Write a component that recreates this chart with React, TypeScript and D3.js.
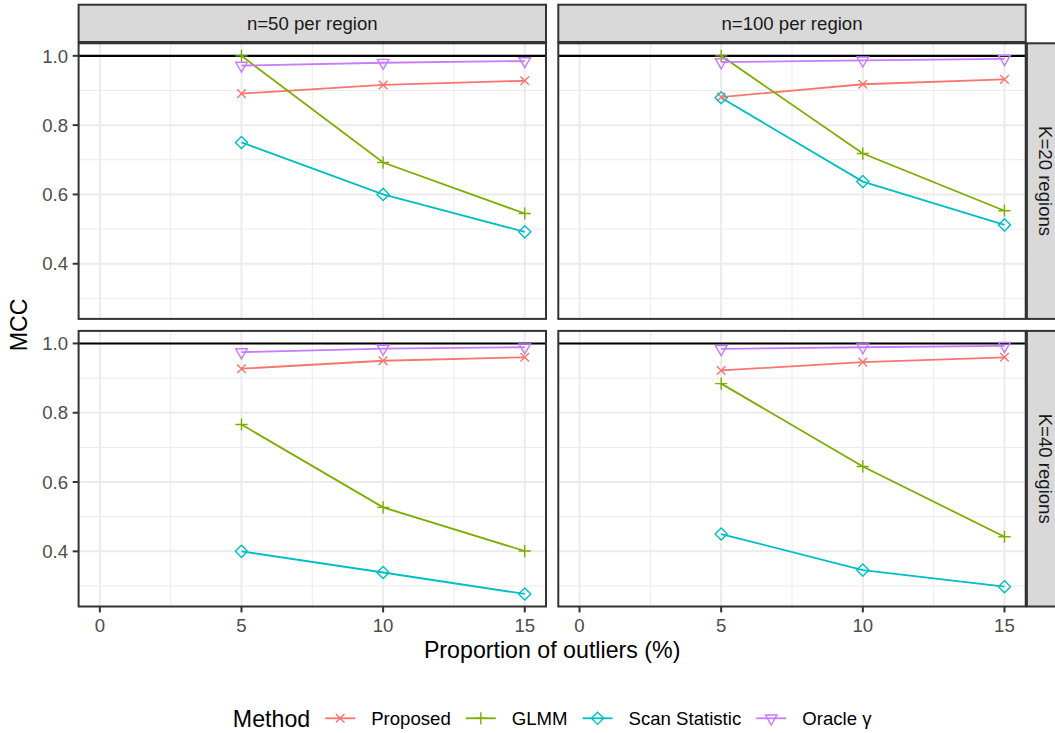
import React, { useEffect, useRef } from "react";
import * as d3 from "d3";

// ---------- data ----------
const xValues = [5, 10, 15];
const xTicks = [0, 5, 10, 15];
const xMinorTicks = [2.5, 7.5, 12.5];
const yTicks = [0.4, 0.6, 0.8, 1.0];
const yMinorTicks = [0.3, 0.5, 0.7, 0.9];
const referenceLine = 1.0;
const xLimitLow = 0;
const xLimitHigh = 15;

const methods = ["Proposed", "GLMM", "Scan Statistic", "Oracle γ"];
const methodColors = ["#F8766D", "#7CAE00", "#00BFC4", "#C77CFF"];
const methodShapes = ["cross", "plus", "diamond", "triangleDown"];

const colLabels = ["n=50 per region", "n=100 per region"];
const rowLabels = ["K=20 regions", "K=40 regions"];

// K=20, n=50
const proposedK20n50 = [0.891, 0.916, 0.928];
const glmmK20n50 = [1.0, 0.692, 0.545];
const scanK20n50 = [0.75, 0.6, 0.492];
const oracleK20n50 = [0.972, 0.98, 0.985];
// K=20, n=100
const proposedK20n100 = [0.881, 0.918, 0.932];
const glmmK20n100 = [1.0, 0.718, 0.553];
const scanK20n100 = [0.879, 0.637, 0.512];
const oracleK20n100 = [0.982, 0.987, 0.991];
// K=40, n=50
const proposedK40n50 = [0.927, 0.95, 0.96];
const glmmK40n50 = [0.766, 0.527, 0.401];
const scanK40n50 = [0.4, 0.339, 0.277];
const oracleK40n50 = [0.975, 0.985, 0.989];
// K=40, n=100
const proposedK40n100 = [0.922, 0.946, 0.96];
const glmmK40n100 = [0.884, 0.645, 0.442];
const scanK40n100 = [0.45, 0.346, 0.298];
const oracleK40n100 = [0.984, 0.989, 0.993];

// panels[row][col] = series per method
const panelSeries = [
  [
    [proposedK20n50, glmmK20n50, scanK20n50, oracleK20n50],
    [proposedK20n100, glmmK20n100, scanK20n100, oracleK20n100],
  ],
  [
    [proposedK40n50, glmmK40n50, scanK40n50, oracleK40n50],
    [proposedK40n100, glmmK40n100, scanK40n100, oracleK40n100],
  ],
];

// ---------- layout ----------
const W = 1055;
const H = 733;
const FONT = "'Liberation Sans', Arial, Helvetica, sans-serif";
const colLeft = [78.6, 558.3];
const panelW = 467.4;
const rowTop = [43.3, 330.9];
const panelH = 275.6;
const stripTopY = 4.7;
const stripTopH = 37.3;
const stripRightX = 1026.9;
const stripRightW = 37.3;
const smallFont = 18.6;
const titleFont = 23.2;
const R = 4.3;

function shapePath(shape: string, cx: number, cy: number): string {
  if (shape === "cross") {
    return `M${cx - R},${cy - R}L${cx + R},${cy + R}M${cx - R},${cy + R}L${cx + R},${cy - R}`;
  }
  if (shape === "plus") {
    const h = R * 1.414;
    return `M${cx - h},${cy}L${cx + h},${cy}M${cx},${cy - h}L${cx},${cy + h}`;
  }
  if (shape === "diamond") {
    const h = R * 1.414;
    return `M${cx},${cy - h}L${cx + h},${cy}L${cx},${cy + h}L${cx - h},${cy}Z`;
  }
  const r = 1.555 * R;
  const xc = 1.347 * R;
  const yc = 0.778 * R;
  return `M${cx},${cy + r}L${cx + xc},${cy - yc}L${cx - xc},${cy - yc}Z`;
}

export default function App() {
  const ref = useRef<SVGSVGElement | null>(null);

  useEffect(() => {
    const svg = d3.select(ref.current);
    svg.selectAll("*").remove();

    const allVals: number[] = [referenceLine];
    panelSeries.forEach((row) => row.forEach((p) => p.forEach((s) => allVals.push(...s))));
    const yMin = d3.min(allVals) as number;
    const yMax = d3.max(allVals) as number;
    const yPad = (yMax - yMin) * 0.05;
    const xPad = (xLimitHigh - xLimitLow) * 0.05;

    const defs = svg.append("defs");

    panelSeries.forEach((row, ri) => {
      row.forEach((series, ci) => {
        const x0 = colLeft[ci];
        const y0 = rowTop[ri];
        const x = d3.scaleLinear().domain([xLimitLow - xPad, xLimitHigh + xPad]).range([x0, x0 + panelW]);
        const y = d3.scaleLinear().domain([yMin - yPad, yMax + yPad]).range([y0 + panelH, y0]);
        const clipId = `clip-${ri}-${ci}`;
        defs.append("clipPath").attr("id", clipId)
          .append("rect").attr("x", x0).attr("y", y0).attr("width", panelW).attr("height", panelH);

        const g = svg.append("g");
        g.append("rect").attr("x", x0).attr("y", y0).attr("width", panelW).attr("height", panelH).attr("fill", "white");

        const grid = g.append("g").attr("clip-path", `url(#${clipId})`);
        // minor grid
        grid.selectAll(".ymin").data(yMinorTicks).enter().append("line")
          .attr("x1", x0).attr("x2", x0 + panelW).attr("y1", (d) => y(d)).attr("y2", (d) => y(d))
          .attr("stroke", "#EBEBEB").attr("stroke-width", 1);
        grid.selectAll(".xmin").data(xMinorTicks).enter().append("line")
          .attr("y1", y0).attr("y2", y0 + panelH).attr("x1", (d) => x(d)).attr("x2", (d) => x(d))
          .attr("stroke", "#EBEBEB").attr("stroke-width", 1);
        // major grid
        grid.selectAll(".ymaj").data(yTicks).enter().append("line")
          .attr("x1", x0).attr("x2", x0 + panelW).attr("y1", (d) => y(d)).attr("y2", (d) => y(d))
          .attr("stroke", "#EBEBEB").attr("stroke-width", 2);
        grid.selectAll(".xmaj").data(xTicks).enter().append("line")
          .attr("y1", y0).attr("y2", y0 + panelH).attr("x1", (d) => x(d)).attr("x2", (d) => x(d))
          .attr("stroke", "#EBEBEB").attr("stroke-width", 2);

        // reference line
        grid.append("line").attr("x1", x0).attr("x2", x0 + panelW)
          .attr("y1", y(referenceLine)).attr("y2", y(referenceLine))
          .attr("stroke", "black").attr("stroke-width", 2.1);

        const line = d3.line<number>().x((_, i) => x(xValues[i])).y((d) => y(d));
        series.forEach((vals, mi) => {
          grid.append("path").attr("d", line(vals) as string).attr("fill", "none")
            .attr("stroke", methodColors[mi]).attr("stroke-width", 1.8);
        });
        series.forEach((vals, mi) => {
          vals.forEach((v, i) => {
            grid.append("path").attr("d", shapePath(methodShapes[mi], x(xValues[i]), y(v)))
              .attr("fill", "none").attr("stroke", methodColors[mi]).attr("stroke-width", 1.4);
          });
        });

        // border
        g.append("rect").attr("x", x0).attr("y", y0).attr("width", panelW).attr("height", panelH)
          .attr("fill", "none").attr("stroke", "#333333").attr("stroke-width", 2);

        // y axis on left column
        if (ci === 0) {
          yTicks.forEach((t) => {
            g.append("line").attr("x1", x0 - 5.9).attr("x2", x0).attr("y1", y(t)).attr("y2", y(t))
              .attr("stroke", "#333333").attr("stroke-width", 2);
            g.append("text").attr("x", x0 - 10.6).attr("y", y(t)).attr("dy", "0.36em")
              .attr("text-anchor", "end").attr("font-family", FONT).attr("font-size", smallFont)
              .attr("fill", "#4D4D4D").text(d3.format(".1f")(t));
          });
        }
        // x axis on bottom row
        if (ri === panelSeries.length - 1) {
          xTicks.forEach((t) => {
            g.append("line").attr("y1", y0 + panelH).attr("y2", y0 + panelH + 5.9).attr("x1", x(t)).attr("x2", x(t))
              .attr("stroke", "#333333").attr("stroke-width", 2);
            g.append("text").attr("x", x(t)).attr("y", y0 + panelH + 25).attr("text-anchor", "middle")
              .attr("font-family", FONT).attr("font-size", smallFont).attr("fill", "#4D4D4D").text(String(t));
          });
        }
        // top strips
        if (ri === 0) {
          g.append("rect").attr("x", x0).attr("y", stripTopY).attr("width", panelW).attr("height", stripTopH)
            .attr("fill", "#D9D9D9").attr("stroke", "#333333").attr("stroke-width", 2);
          g.append("text").attr("x", x0 + panelW / 2).attr("y", stripTopY + stripTopH / 2).attr("dy", "0.36em")
            .attr("text-anchor", "middle").attr("font-family", FONT).attr("font-size", smallFont)
            .attr("fill", "#1A1A1A").text(colLabels[ci]);
        }
        // right strips
        if (ci === row.length - 1) {
          g.append("rect").attr("x", stripRightX).attr("y", y0).attr("width", stripRightW).attr("height", panelH)
            .attr("fill", "#D9D9D9").attr("stroke", "#333333").attr("stroke-width", 2);
          const cx = stripRightX + stripRightW / 2;
          const cy = y0 + panelH / 2;
          g.append("text").attr("transform", `translate(${cx},${cy}) rotate(90)`).attr("dy", "0.36em")
            .attr("text-anchor", "middle").attr("font-family", FONT).attr("font-size", smallFont)
            .attr("fill", "#1A1A1A").text(rowLabels[ri]);
        }
      });
    });

    const panelsCenterX = (colLeft[0] + colLeft[1] + panelW) / 2;
    const panelsCenterY = (rowTop[0] + rowTop[1] + panelH) / 2;

    // axis titles
    svg.append("text").attr("x", panelsCenterX).attr("y", 658).attr("text-anchor", "middle")
      .attr("font-family", FONT).attr("font-size", titleFont).attr("fill", "black")
      .text("Proportion of outliers (%)");
    svg.append("text").attr("transform", `translate(27,${panelsCenterY}) rotate(-90)`)
      .attr("text-anchor", "middle").attr("font-family", FONT).attr("font-size", titleFont).attr("fill", "black")
      .text("MCC");

    // legend
    const legendY = 718.3;
    const lg = svg.append("g");
    const title = lg.append("text").attr("x", 0).attr("y", legendY).attr("dy", "0.36em")
      .attr("font-family", FONT).attr("font-size", titleFont).attr("fill", "black").text("Method");
    let cursor = (title.node() as SVGTextElement).getComputedTextLength() + 15;
    methods.forEach((m, mi) => {
      const keyX = cursor;
      lg.append("line").attr("x1", keyX).attr("x2", keyX + 30).attr("y1", legendY).attr("y2", legendY)
        .attr("stroke", methodColors[mi]).attr("stroke-width", 1.8);
      lg.append("path").attr("d", shapePath(methodShapes[mi], keyX + 15, legendY))
        .attr("fill", "none").attr("stroke", methodColors[mi]).attr("stroke-width", 1.4);
      const t = lg.append("text").attr("x", keyX + 46).attr("y", legendY).attr("dy", "0.36em")
        .attr("font-family", FONT).attr("font-size", smallFont).attr("fill", "black").text(m);
      const w = (t.node() as SVGTextElement).getComputedTextLength();
      cursor = keyX + 46 + w + (mi < methods.length - 1 ? 15 : 0);
    });
    lg.attr("transform", `translate(${panelsCenterX - cursor / 2},0)`);
  }, []);

  return (
    <svg
      ref={ref}
      width={W}
      height={H}
      viewBox={`0 0 ${W} ${H}`}
      style={{ position: "absolute", left: 0, top: 0, background: "white", display: "block" }}
    />
  );
}
